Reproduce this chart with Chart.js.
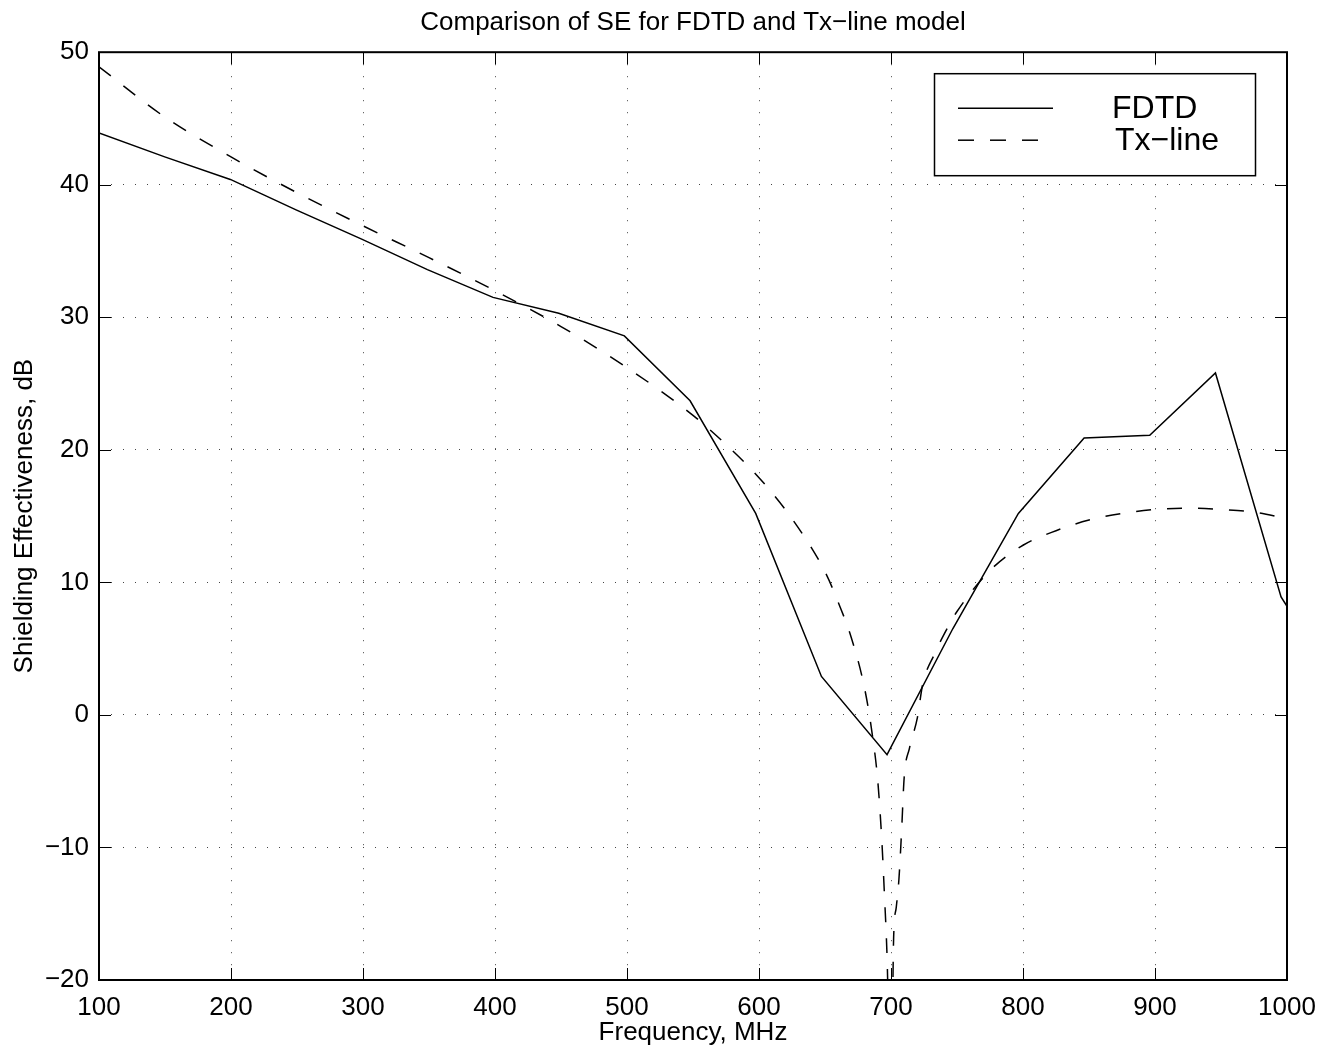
<!DOCTYPE html>
<html>
<head>
<meta charset="utf-8">
<title>Comparison of SE for FDTD and Tx−line model</title>
<script src="https://cdn.jsdelivr.net/npm/chart.js@4.4.0/dist/chart.umd.min.js"></script>
<style>
  html, body { margin: 0; padding: 0; background: #fff; }
</style>
</head>
<body>
<canvas id="mycanvas" width="1321" height="1049"></canvas>
<script>
// FDTD result (solid)
var fdtdFreq = [100, 149.8, 199.5, 249.3, 299, 348.8, 398.5, 448.3, 498, 547.8, 597.5, 647.3, 697, 746.8, 796.5, 846.3, 896, 945.8, 995.5, 1000];
var fdtdSE = [43.9, 42.1, 40.4, 38.1, 35.9, 33.6, 31.5, 30.3, 28.6, 23.7, 15.2, 2.9, -3.0, 6.5, 15.2, 20.9, 21.1, 25.8, 8.9, 8.2];

// transmission line model (dashed)
var txFreq = [100, 150, 200, 250, 300, 350, 400, 450, 500, 550, 575, 600, 625, 650, 660, 670, 680, 686, 690, 693, 695, 697, 700, 702, 704, 706, 708, 710, 714, 720, 724, 733, 743, 750, 775, 800, 825, 850, 875, 900, 925, 950, 975, 1000];
var txSE = [48.9, 45.1, 42.1, 39.4, 36.9, 34.5, 32.0, 29.3, 26.2, 22.6, 20.4, 17.9, 14.8, 10.8, 8.5, 5.8, 2.0, -1.6, -5.0, -9.4, -13.5, -18.2, -30, -16.8, -14.5, -12.4, -8.8, -4.7, -2.5, -0.2, 2.3, 4.6, 6.6, 7.8, 10.9, 12.8, 13.9, 14.7, 15.2, 15.5, 15.6, 15.5, 15.3, 14.8];

var seriesNames = ['FDTD', 'Tx−line'];
var xTicks = [100, 200, 300, 400, 500, 600, 700, 800, 900, 1000];
var yTicks = [-20, -10, 0, 10, 20, 30, 40, 50];

var FONT = "Helvetica, Arial, 'Liberation Sans', sans-serif";
var DASH = [15, 16];

function pairs(xs, ys) {
  var out = [];
  for (var i = 0; i < xs.length; i++) out.push({ x: xs[i], y: ys[i] });
  return out;
}

function label(v) {
  return String(v).replace('-', '\u2212');
}

// axes box, inward ticks on all four sides, and the legend box
var framePlugin = {
  id: 'frame',
  afterDraw: function(chart) {
    var ctx = chart.ctx, a = chart.chartArea;
    var xs = chart.scales.x, ys = chart.scales.y;
    var tl = 12;
    ctx.save();
    ctx.strokeStyle = '#000';
    ctx.lineWidth = 1;
    ctx.beginPath();
    xTicks.forEach(function(v) {
      var px = Math.round(xs.getPixelForValue(v)) + 0.5;
      ctx.moveTo(px, a.bottom); ctx.lineTo(px, a.bottom - tl);
      ctx.moveTo(px, a.top); ctx.lineTo(px, a.top + tl);
    });
    yTicks.forEach(function(v) {
      var py = Math.round(ys.getPixelForValue(v)) + 0.5;
      ctx.moveTo(a.left, py); ctx.lineTo(a.left + tl, py);
      ctx.moveTo(a.right, py); ctx.lineTo(a.right - tl, py);
    });
    ctx.stroke();
    ctx.lineWidth = 2;
    ctx.strokeRect(a.left, a.top, a.right - a.left, a.bottom - a.top);

    // legend
    var bx = a.right - 353, by = a.top + 21, bw = 321, bh = 102;
    ctx.fillStyle = '#fff';
    ctx.fillRect(bx, by, bw, bh);
    ctx.lineWidth = 1.5;
    ctx.strokeRect(bx + 0.5, by + 0.5, bw, bh);
    var ds = chart.data.datasets;
    ctx.font = '32px ' + FONT;
    ctx.fillStyle = '#000';
    ctx.textBaseline = 'alphabetic';
    ctx.textAlign = 'left';
    ctx.lineWidth = 1.5;
    ctx.beginPath();
    ctx.setLineDash([]);
    ctx.moveTo(bx + 24, by + 35); ctx.lineTo(bx + 119, by + 35);
    ctx.stroke();
    ctx.fillText(ds[0].label, bx + 178, by + 45);
    ctx.beginPath();
    ctx.setLineDash([16, 16]);
    ctx.moveTo(bx + 24, by + 67); ctx.lineTo(bx + 104, by + 67);
    ctx.stroke();
    ctx.setLineDash([]);
    ctx.fillText(ds[1].label, bx + 181, by + 77);
    ctx.restore();
  }
};

var tickFont = { family: FONT, size: 26 };

var ctx = document.getElementById('mycanvas');
var chart = new Chart(ctx, {
  type: 'line',
  data: {
    datasets: [
      {
        label: seriesNames[0],
        data: pairs(fdtdFreq, fdtdSE),
        borderColor: '#000',
        borderWidth: 1.5,
        pointRadius: 0,
        tension: 0,
        fill: false
      },
      {
        label: seriesNames[1],
        data: pairs(txFreq, txSE),
        borderColor: '#000',
        borderWidth: 1.5,
        borderDash: DASH,
        pointRadius: 0,
        cubicInterpolationMode: 'monotone',
        fill: false
      }
    ]
  },
  options: {
    responsive: false,
    animation: false,
    devicePixelRatio: 1,
    layout: { padding: { left: 0, right: 34, top: 0, bottom: 0 } },
    plugins: {
      legend: { display: false },
      tooltip: { enabled: false },
      title: {
        display: true,
        fullSize: false,
        text: 'Comparison of SE for FDTD and Tx\u2212line model',
        color: '#000',
        font: { family: FONT, size: 26, weight: 'normal' },
        padding: { top: 7, bottom: 14 }
      }
    },
    scales: {
      x: {
        type: 'linear',
        min: 100,
        max: 1000,
        afterFit: function(s) { s.height = 69; s.paddingLeft = 0; s.paddingRight = 0; },
        afterBuildTicks: function(s) { s.ticks = xTicks.map(function(v) { return { value: v }; }); },
        ticks: {
          color: '#000', font: tickFont, padding: 12, autoSkip: false, maxRotation: 0,
          callback: function(v) { return label(v); }
        },
        grid: { drawTicks: false, color: '#444', lineWidth: 1 },
        border: { display: false, dash: [1, 11] },
        title: {
          display: true, text: 'Frequency, MHz', color: '#000',
          font: tickFont, padding: { top: 0, bottom: 1 }
        }
      },
      y: {
        type: 'linear',
        min: -20,
        max: 50,
        afterFit: function(s) { s.width = 99; s.paddingTop = 0; s.paddingBottom = 0; },
        afterBuildTicks: function(s) { s.ticks = yTicks.map(function(v) { return { value: v }; }); },
        ticks: {
          color: '#000', font: tickFont, padding: 10, autoSkip: false,
          callback: function(v) { return label(v); }
        },
        grid: { drawTicks: false, color: '#444', lineWidth: 1 },
        border: { display: false, dash: [1, 11] },
        title: {
          display: true, text: 'Shielding Effectiveness, dB', color: '#000',
          font: tickFont, padding: { top: 9, bottom: 0 }
        }
      }
    }
  },
  plugins: [framePlugin]
});
</script>
</body>
</html>
